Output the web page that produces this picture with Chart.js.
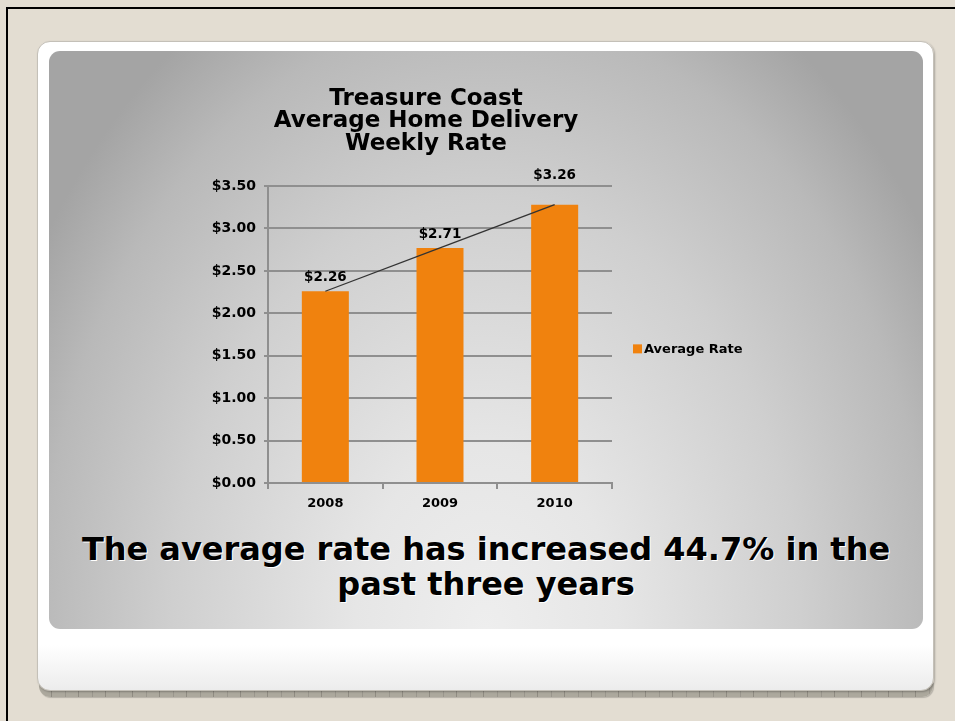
<!DOCTYPE html>
<html>
<head>
<meta charset="utf-8">
<script src="https://cdn.jsdelivr.net/npm/chart.js@4.4.1/dist/chart.umd.min.js"></script>
<style>
html,body{margin:0;padding:0;}
body{width:955px;height:721px;background:#e3ddd2;position:relative;overflow:hidden;font-family:"DejaVu Sans",Verdana,sans-serif;}
#frame{position:absolute;left:6px;top:7px;width:980px;height:760px;border-top:2px solid #000;border-left:2px solid #000;}
#ruler{position:absolute;left:39px;top:682px;width:894px;height:15px;border-radius:0 0 11px 11px;
  background:repeating-linear-gradient(90deg,#aca89d 0 12px,#8f8b82 12px 13px,#aca89d 13px 26px,#9a968d 26px 27px);
  box-shadow:1px 1px 1px rgba(0,0,0,.2);}
#card{position:absolute;left:37px;top:41px;width:897px;height:650px;box-sizing:border-box;border:1px solid #c4c0b8;border-radius:13px;
  background:linear-gradient(#fff 0,#fff 93%,#ececec 100%);box-shadow:1px 1px 2px rgba(0,0,0,.25);}
#panel{position:absolute;left:49px;top:51px;width:874px;height:578px;border-radius:11px;
  background:radial-gradient(ellipse 60% 125% at 50% 100%,#eeeeee 0%,#e6e6e6 25%,#cfcfcf 60%,#b9b9b9 85%,#a4a4a4 100%);}
#note{position:absolute;left:49px;width:874px;top:532px;text-align:center;font:bold 32px "DejaVu Sans",sans-serif;line-height:35px;color:#000;text-shadow:1px 1px 0 #fff;}
canvas{position:absolute;left:0;top:0;}
</style>
</head>
<body>
<div id="frame"></div>
<div id="ruler"></div>
<div id="card"></div>
<div id="panel"></div>
<div id="note">The average rate has increased 44.7% in the<br>past three years</div>
<canvas id="rateChart" width="955" height="721"></canvas>
<script>
/* ===== data ===== */
const TITLE=['Treasure Coast','Average Home Delivery','Weekly Rate'];
const YEARS=['2008','2009','2010'];
const RATES=[2.26,2.77,3.28];              // bar heights as drawn
const RATE_TXT=['$2.26','$2.71','$3.26'];  // labels as printed
const Y_TICKS=[0,0.5,1,1.5,2,2.5,3,3.5];
const SERIES='Average Rate';

/* ---------- linear trend (like the spreadsheet's trendline) ---------- */
const trend=(ys=>{
  const n=ys.length,xs=ys.map((_,i)=>i);
  const mx=xs.reduce((a,b)=>a+b)/n,my=ys.reduce((a,b)=>a+b)/n;
  let sxy=0,sxx=0; xs.forEach((x,i)=>{sxy+=(x-mx)*(ys[i]-my);sxx+=(x-mx)**2;});
  const k=sxy/sxx; return xs.map(x=>my+k*(x-mx));
})(RATES);

const FONT='"DejaVu Sans", Verdana, sans-serif';
const ORANGE='#f0820e', GRID='#8f8f8f';

/* plugin: value labels over bars */
const barTxt={id:'barTxt',afterDatasetsDraw(c,_,o){
  const {ctx}=c, meta=c.getDatasetMeta(0);
  ctx.save(); ctx.font='bold 13.5px '+FONT; ctx.fillStyle='#000';
  ctx.textAlign='center'; ctx.textBaseline='middle';
  meta.data.forEach((b,i)=>ctx.fillText(RATE_TXT[i],b.x,b.y-o.lift[i]));
  ctx.restore();}};

/* plugin: legend to the right */
const sideLegend={id:'sideLegend',afterDraw(c){
  const {ctx,chartArea:{right,top,bottom}}=c, ds=c.data.datasets[0];
  const x=right+21, y=top+(bottom-top)*0.55;
  ctx.save(); ctx.fillStyle=ds.backgroundColor; ctx.fillRect(x,y-5,9,9);
  ctx.font='bold 13px '+FONT; ctx.fillStyle='#000'; ctx.textBaseline='middle';
  ctx.fillText(ds.label,x+11,y); ctx.restore();}};

new Chart(document.getElementById('rateChart'),{
  data:{labels:YEARS,datasets:[
    {type:'bar',label:SERIES,data:RATES,backgroundColor:ORANGE,barPercentage:0.41,categoryPercentage:1,order:1},
    {type:'line',label:'trend',data:trend,borderColor:'#333',borderWidth:1.3,pointRadius:0,fill:false,order:0}
  ]},
  options:{
    responsive:false,animation:false,
    layout:{padding:{left:208,right:311,top:87.5,bottom:198}},
    plugins:{
      legend:{display:false},tooltip:{enabled:false},
      title:{display:true,text:TITLE,color:'#000',padding:{top:0,bottom:30.9},
             font:{family:FONT,size:23,weight:'bold',lineHeight:0.98}},
      barTxt:{lift:[14,13,29]}
    },
    scales:{
      x:{afterFit:s=>{s.height=40;},
         border:{color:GRID,width:2},
         grid:{offset:true,drawOnChartArea:false,drawTicks:true,tickLength:6,color:GRID,lineWidth:2},
         ticks:{color:'#000',padding:7,font:{family:FONT,size:13,weight:'bold'}}},
      y:{min:0,max:3.5,afterFit:s=>{s.width=60;},
         afterBuildTicks:s=>{s.ticks=Y_TICKS.map(v=>({value:v}));},
         border:{color:GRID,width:2},
         grid:{color:GRID,lineWidth:2,tickLength:4},
         ticks:{color:'#000',padding:8,font:{family:FONT,size:14,weight:'bold'},
                callback:v=>'$'+Number(v).toFixed(2)}},
      /* empty spacer on the right so the title sits where the original has it */
      yR:{type:'linear',position:'right',afterFit:s=>{s.width=32;},
          grid:{display:false},border:{display:false},ticks:{display:false}}
    }
  },
  plugins:[barTxt,sideLegend]
});
</script>
</body>
</html>
